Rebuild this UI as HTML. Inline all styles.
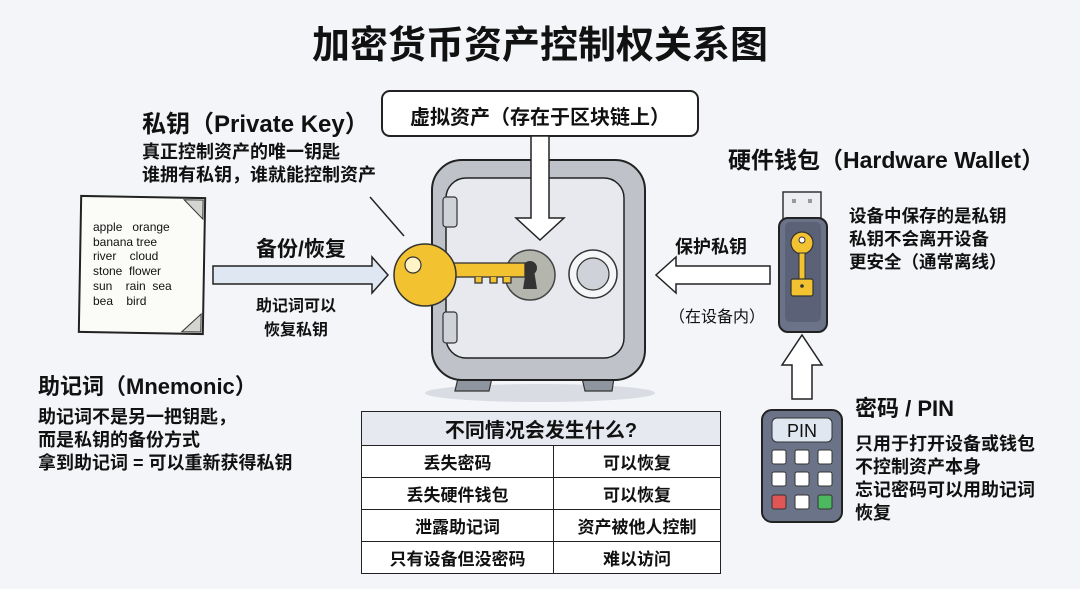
<!DOCTYPE html>
<html><head><meta charset="utf-8"><style>
body{margin:0;width:1080px;height:589px;background:#f3f5f8;position:relative;overflow:hidden;font-family:"Liberation Sans","Noto Sans CJK SC",sans-serif;color:#111}
.t{position:absolute;font-weight:bold;white-space:nowrap}
svg{position:absolute;left:0;top:0}
table{position:absolute;left:361px;top:411px;width:360px;border-collapse:collapse;background:#fff;font-weight:bold;font-size:17px}
td{border:1.5px solid #222;height:31px;text-align:center;padding:0}
</style></head><body>
<svg width="1080" height="589">
<rect x="382" y="91" width="316" height="45" rx="8" fill="#fff" stroke="#222" stroke-width="2"/>
<ellipse cx="540" cy="393" rx="115" ry="9" fill="#d9dde3"/>
<polygon points="458,378 492,378 489,391 455,391" fill="#8f959e" stroke="#333" stroke-width="1.2"/>
<polygon points="582,378 614,378 612,391 585,391" fill="#8f959e" stroke="#333" stroke-width="1.2"/>
<rect x="432" y="160" width="213" height="220" rx="30" fill="#bfc3c9" stroke="#222" stroke-width="2"/>
<rect x="446" y="178" width="178" height="180" rx="20" fill="#e7e9ee" stroke="#222" stroke-width="1.5"/>
<rect x="443" y="197" width="14" height="30" rx="3" fill="#cfd2d7" stroke="#333" stroke-width="1.2"/>
<rect x="443" y="312" width="14" height="31" rx="3" fill="#cfd2d7" stroke="#333" stroke-width="1.2"/>
<polygon points="531,136 549,136 549,218 564,218 540,240 516,218 531,218" fill="#fff" stroke="#222" stroke-width="1.5"/>
<circle cx="530" cy="275" r="25" fill="#b4b5ad" stroke="#444" stroke-width="1.5"/>
<circle cx="530" cy="268" r="7" fill="#333"/>
<polygon points="526,270 534,270 537,289 523,289" fill="#333"/>
<circle cx="593" cy="274" r="24" fill="#f5f6f8" stroke="#333" stroke-width="1.5"/>
<circle cx="593" cy="274" r="16" fill="#cfd3d9" stroke="#333" stroke-width="1.2"/>
<rect x="447" y="263" width="78" height="14" fill="#f2c230" stroke="#333" stroke-width="1.3"/>
<path d="M475 277 v6 h7 v-6 M490 277 v6 h7 v-6 M503 277 v6 h8 v-6" fill="#f2c230" stroke="#333" stroke-width="1.3"/>
<circle cx="425" cy="275" r="31" fill="#f2c230" stroke="#333" stroke-width="1.5"/>
<circle cx="413" cy="265" r="8" fill="#fff4c8" stroke="#333" stroke-width="1.2"/>
<line x1="370" y1="197" x2="404" y2="236" stroke="#222" stroke-width="1.5"/>
<g transform="rotate(1 142 265)">
<rect x="80" y="197" width="124" height="136" fill="#fbfbf8" stroke="#222" stroke-width="2"/>
<polygon points="183,199 202,199 202,218" fill="#d4d4d0" stroke="#333"/>
<polygon points="202,313 202,331 183,331" fill="#d4d4d0" stroke="#333"/>
</g>
<polygon points="213,266 372,266 372,257 388,275 372,293 372,284 213,284" fill="#dfe8f2" stroke="#222" stroke-width="1.5"/>
<polygon points="770,266 676,266 676,257 656,275 676,293 676,284 770,284" fill="#fff" stroke="#222" stroke-width="1.5"/>
<rect x="783" y="192" width="38" height="28" fill="#eceef1" stroke="#333" stroke-width="1.5"/>
<rect x="792" y="199" width="4" height="4" fill="#999"/><rect x="808" y="199" width="4" height="4" fill="#999"/>
<rect x="779" y="218" width="48" height="114" rx="9" fill="#6b7388" stroke="#222" stroke-width="2"/>
<rect x="785" y="222" width="36" height="100" rx="5" fill="#5b6277"/>
<circle cx="802" cy="243" r="11" fill="#f2c230" stroke="#333" stroke-width="1.2"/>
<circle cx="802" cy="240" r="3" fill="#fff" stroke="#333"/>
<rect x="799" y="253" width="6" height="26" fill="#f2c230" stroke="#333"/>
<rect x="791" y="279" width="22" height="17" rx="2" fill="#f2c230" stroke="#333" stroke-width="1.2"/>
<circle cx="802" cy="286" r="1.8" fill="#333"/>
<polygon points="792,399 812,399 812,365 822,365 802,335 782,365 792,365" fill="#fff" stroke="#222" stroke-width="1.5"/>
<rect x="762" y="410" width="80" height="112" rx="10" fill="#6b7388" stroke="#222" stroke-width="2"/>
<rect x="772" y="418" width="60" height="24" rx="5" fill="#dfe7f0" stroke="#333"/>
<text x="802" y="437" font-size="18" text-anchor="middle" fill="#111" font-family="Liberation Sans">PIN</text>
<g stroke="#333" stroke-width="1">
<rect x="772" y="450" width="14" height="14" rx="2" fill="#fff"/><rect x="795" y="450" width="14" height="14" rx="2" fill="#fff"/><rect x="818" y="450" width="14" height="14" rx="2" fill="#fff"/>
<rect x="772" y="472" width="14" height="14" rx="2" fill="#fff"/><rect x="795" y="472" width="14" height="14" rx="2" fill="#fff"/><rect x="818" y="472" width="14" height="14" rx="2" fill="#fff"/>
<rect x="772" y="495" width="14" height="14" rx="2" fill="#e05555"/><rect x="795" y="495" width="14" height="14" rx="2" fill="#fff"/><rect x="818" y="495" width="14" height="14" rx="2" fill="#4cb860"/>
</g>
</svg>
<div class="t" style="left:0;width:1080px;text-align:center;top:14px;font-size:38px">加密货币资产控制权关系图</div>
<div class="t" style="left:382px;width:316px;text-align:center;top:101px;font-size:20px">虚拟资产（存在于区块链上）</div>
<div class="t" style="left:142px;top:104px;font-size:24px">私钥（Private Key）</div>
<div class="t" style="left:142px;top:141px;font-size:18px;line-height:23px">真正控制资产的唯一钥匙<br>谁拥有私钥，谁就能控制资产</div>
<div class="t" style="left:93px;top:220px;font-size:12px;line-height:14.7px;font-weight:normal">apple&nbsp;&nbsp; orange<br>banana tree<br>river&nbsp;&nbsp;&nbsp; cloud<br>stone&nbsp; flower<br>sun&nbsp;&nbsp;&nbsp; rain&nbsp; sea<br>bea&nbsp;&nbsp;&nbsp; bird</div>
<div class="t" style="left:256px;top:233px;font-size:21px">备份/恢复</div>
<div class="t" style="left:256px;top:295px;font-size:16px;line-height:24px;text-align:center">助记词可以<br>恢复私钥</div>
<div class="t" style="left:38px;top:369px;font-size:22px">助记词（Mnemonic）</div>
<div class="t" style="left:38px;top:406px;font-size:18px;line-height:23px">助记词不是另一把钥匙，<br>而是私钥的备份方式<br>拿到助记词 = 可以重新获得私钥</div>
<div class="t" style="left:728px;top:141px;font-size:23px">硬件钱包（Hardware Wallet）</div>
<div class="t" style="left:849px;top:205px;font-size:17.5px;line-height:23px">设备中保存的是私钥<br>私钥不会离开设备<br>更安全（通常离线）</div>
<div class="t" style="left:675px;top:233px;font-size:18px">保护私钥</div>
<div class="t" style="left:669px;top:303px;font-size:16px;font-weight:normal">（在设备内）</div>
<div class="t" style="left:855px;top:391px;font-size:22px">密码 / PIN</div>
<div class="t" style="left:855px;top:433px;font-size:18px;line-height:23px">只用于打开设备或钱包<br>不控制资产本身<br>忘记密码可以用助记词<br>恢复</div>
<table>
<tr><td colspan="2" style="background:#e6eaf0;height:33px;font-size:20px">不同情况会发生什么?</td></tr>
<tr><td style="width:191px">丢失密码</td><td>可以恢复</td></tr>
<tr><td>丢失硬件钱包</td><td>可以恢复</td></tr>
<tr><td>泄露助记词</td><td>资产被他人控制</td></tr>
<tr><td>只有设备但没密码</td><td>难以访问</td></tr>
</table>
</body></html>
